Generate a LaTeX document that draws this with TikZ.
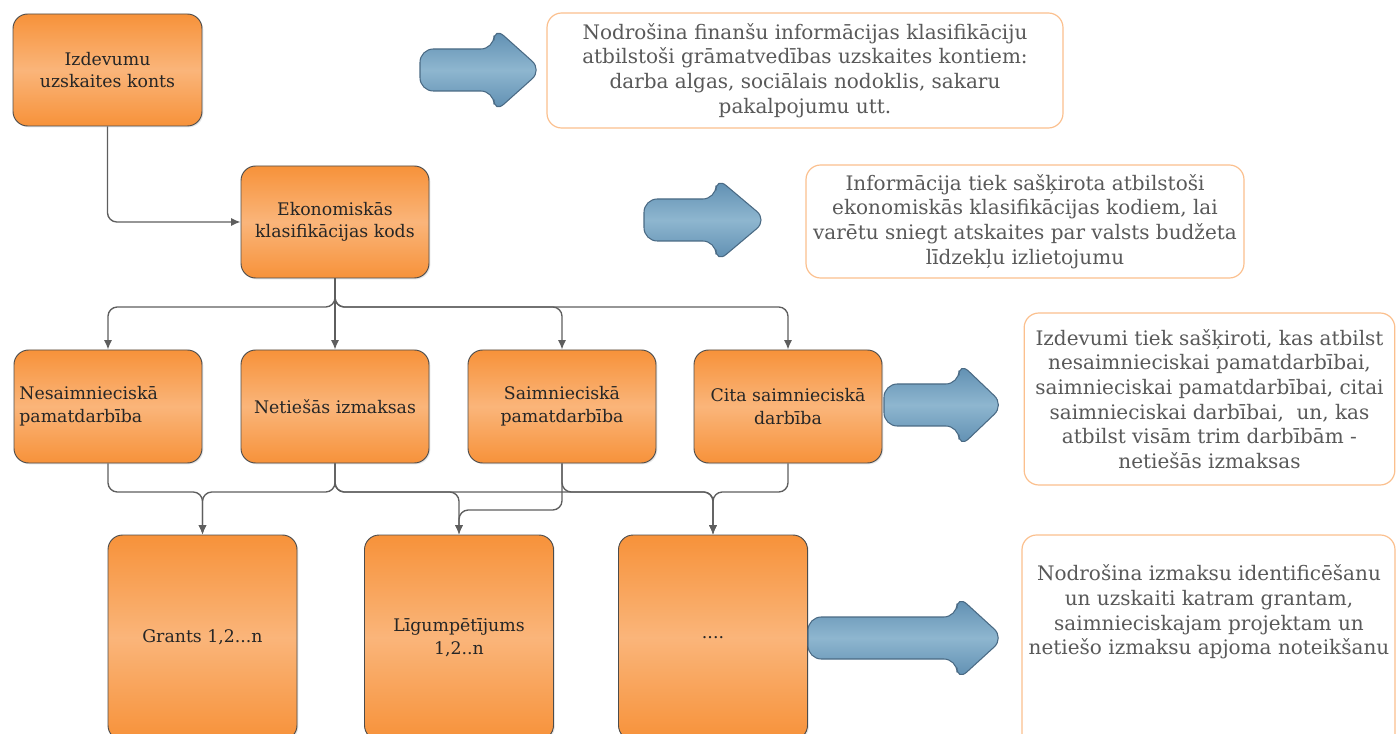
\documentclass[tikz,border=0pt]{standalone}
\usepackage{fontspec}
\setmainfont{DejaVu Serif}
\usetikzlibrary{arrows.meta,shadows}
\definecolor{orD}{HTML}{F7923A}
\definecolor{orL}{HTML}{FAB57A}
\definecolor{orLine}{HTML}{FBC08E}
\definecolor{blD}{HTML}{5B8BAF}
\definecolor{blL}{HTML}{8EB6CF}
\definecolor{blLine}{HTML}{4A6A84}
\definecolor{conGrey}{HTML}{5E5E5E}
\definecolor{txtGrey}{HTML}{595959}
\newcommand{\blarrow}[4]{\draw[barrow] (#1,{#4-21}) -- (#2,{#4-21}) -- (#2,{#4-43}) -- (#3,#4) -- (#2,{#4+43}) -- (#2,{#4+21}) -- (#1,{#4+21}) -- cycle;}
\begin{document}
\begin{tikzpicture}[x=0.75pt,y=-0.75pt,
 obox/.style={draw=black!70, line width=0.7pt, rounded corners=11pt, top color=orD, bottom color=orD, middle color=orL, align=center, font=\fontsize{13}{17}\selectfont, text=black!85, inner sep=3pt, drop shadow={opacity=0.2,shadow xshift=1pt,shadow yshift=-1pt}},
 rowbox/.style={obox, minimum width=141pt, minimum height=84.75pt},
 botbox/.style={obox, minimum width=141.75pt, minimum height=153.75pt},
 tbox/.style={draw=orLine, line width=0.9pt, rounded corners=11pt, fill=white, align=center, font=\fontsize{15}{18.5}\selectfont, text=txtGrey, inner sep=2pt},
 ttext/.style={align=center, font=\fontsize{15}{18.5}\selectfont, text=txtGrey},
 barrow/.style={draw=blLine, line width=0.8pt, rounded corners=10pt, top color=blD, bottom color=blD, middle color=blL},
 conn/.style={draw=conGrey, line width=1pt, rounded corners=7pt, -{Latex[length=7pt,width=6pt]}}
]
\useasboundingbox (0,0) rectangle (1397,734);

% orange boxes
\node[obox, minimum width=141.75pt, minimum height=84pt] (n1) at (107.5,70) {Izdevumu\\uzskaites konts};
\node[rowbox, minimum height=84pt] (n2) at (335,222) {Ekonomiskās\\klasifikācijas kods};
\node[rowbox, text width=133pt, align=left] (r1) at (108,406.5) {Nesaimnieciskā\\pamatdarbība};
\node[rowbox] (r2) at (335,406.5) {Netiešās izmaksas};
\node[rowbox] (r3) at (562,406.5) {Saimnieciskā\\pamatdarbība};
\node[rowbox] (r4) at (788,406.5) {Cita saimnieciskā\\darbība};
\node[botbox] (b1) at (202.5,637.5) {Grants 1,2...n};
\node[botbox] (b2) at (459,637.5) {Līgumpētījums\\1,2..n};
\node[botbox] (b3) at (713,637.5) {....};

% connectors
\draw[conn] (n1.south) |- (n2.west);
\draw[conn] (n2.south) -- (n2.south |- 0,307) -| (r1.north);
\draw[conn] (n2.south) -- (r2.north);
\draw[conn] (n2.south) -- (n2.south |- 0,307) -| (r3.north);
\draw[conn] (n2.south) -- (n2.south |- 0,307) -| (r4.north);

\draw[conn] (r1.south) -- (r1.south |- 0,492) -| (b1.north);
\draw[conn] (r2.south) -- (r2.south |- 0,492) -| (b1.north);
\draw[conn] (r2.south) -- (r2.south |- 0,492) -| (b2.north);
\draw[conn] (r2.south) -- (r2.south |- 0,492) -| (b3.north);
\draw[conn] (r3.south) -- (r3.south |- 0,510) -| (b2.north);
\draw[conn] (r3.south) -- (r3.south |- 0,492) -| (b3.north);
\draw[conn] (r4.south) -- (r4.south |- 0,492) -| (b3.north);

% blue arrows
\blarrow{420}{494}{542}{70}
\blarrow{644}{716}{767}{220}
\blarrow{884}{959}{1004}{405}
\blarrow{808}{957}{1004}{638}

% text boxes
\node[tbox, minimum width=387pt, minimum height=86.25pt] (t1) at (805,70.5) {Nodrošina finanšu informācijas klasifikāciju\\atbilstoši grāmatvedības uzskaites kontiem:\\darba algas, sociālais nodoklis, sakaru\\pakalpojumu utt.};
\node[tbox, minimum width=328.5pt, minimum height=84.75pt] (t2) at (1025,221.5) {Informācija tiek sašķirota atbilstoši\\ekonomiskās klasifikācijas kodiem, lai\\varētu sniegt atskaites par valsts budžeta\\līdzekļu izlietojumu};
\node[tbox, minimum width=278pt, minimum height=129pt] (t3) at (1209.5,399) {Izdevumi tiek sašķiroti, kas atbilst\\nesaimnieciskai pamatdarbībai,\\saimnieciskai pamatdarbībai, citai\\saimnieciskai darbībai,~ un, kas\\atbilst visām trim darbībām -\\netiešās izmaksas};
\draw[draw=orLine, line width=0.9pt, rounded corners=11pt, fill=white] (1022,535) rectangle (1395,770);
\node[ttext] (t4) at (1209,612) {Nodrošina izmaksu identificēšanu\\un uzskaiti katram grantam,\\saimnieciskajam projektam un\\netiešo izmaksu apjoma noteikšanu};
\end{tikzpicture}
\end{document}
